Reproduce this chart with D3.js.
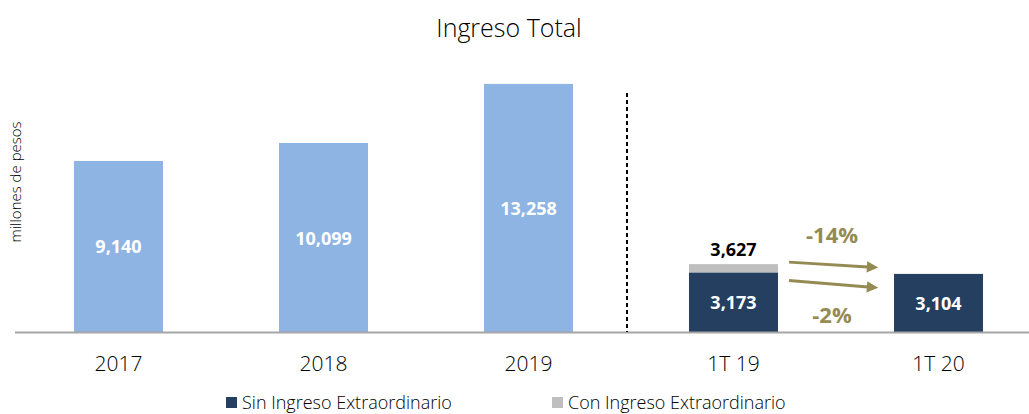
<!DOCTYPE html>
<html>
<head>
<meta charset="utf-8">
<script src="https://cdn.jsdelivr.net/npm/d3@7"></script>
<style>
  body { margin: 0; background: #fff; }
  svg text { font-family: "Open Sans", "DejaVu Sans", sans-serif; }
</style>
</head>
<body>
<div id="chart"></div>
<script>
// data
var categories = ["2017", "2018", "2019", "1T 19", "1T 20"];
var annualValues = [9140, 10099, 13258];           // light blue bars
var sinExtra = [null, null, null, 3173, 3104];     // navy bars
var conExtra = [null, null, null, 3627, null];     // total incl. extraordinary
var changes = ["-14%", "-2%"];
var legendLabels = ["Sin Ingreso Extraordinario", "Con Ingreso Extraordinario"];

var width = 1029, height = 414;
var baseY = 332;

var svg = d3.select("#chart").append("svg")
  .attr("width", width)
  .attr("height", height);

var x = d3.scaleBand().domain(categories).range([16, 1041])
  .paddingInner(0.566).paddingOuter(0.283);
var y = d3.scaleLinear().domain([0, 14000]).range([baseY, 70]);
var fmt = d3.format(",");

// title
svg.append("text")
  .attr("x", 509).attr("y", 37)
  .attr("text-anchor", "middle")
  .style("font-size", "25px")
  .style("font-weight", "300")
  .style("fill", "#000")
  .text("Ingreso Total");

// y label
svg.append("text")
  .attr("transform", "translate(21,182) rotate(-90)")
  .attr("text-anchor", "middle")
  .style("font-size", "15px")
  .style("font-weight", "300")
  .text("millones de pesos");

// annual bars
var annual = annualValues.map(function(v, i){ return {cat: categories[i], v: v}; });
svg.selectAll("rect.annual")
  .data(annual)
  .enter().append("rect")
    .attr("class", "annual")
    .attr("x", function(d){ return x(d.cat); })
    .attr("y", function(d){ return y(d.v); })
    .attr("width", x.bandwidth())
    .attr("height", function(d){ return baseY - y(d.v); })
    .attr("fill", "#8EB4E3");

// extraordinary (gray) part
var extra = categories.map(function(c, i){ return {cat: c, v: conExtra[i], s: sinExtra[i]}; })
  .filter(function(d){ return d.v != null; });
svg.selectAll("rect.extra")
  .data(extra)
  .enter().append("rect")
    .attr("class", "extra")
    .attr("x", function(d){ return x(d.cat); })
    .attr("y", function(d){ return y(d.v); })
    .attr("width", x.bandwidth())
    .attr("height", function(d){ return y(d.s) - y(d.v); })
    .attr("fill", "#BFBFBF");

// quarterly navy bars
var quarter = categories.map(function(c, i){ return {cat: c, v: sinExtra[i]}; })
  .filter(function(d){ return d.v != null; });
svg.selectAll("rect.quarter")
  .data(quarter)
  .enter().append("rect")
    .attr("class", "quarter")
    .attr("x", function(d){ return x(d.cat); })
    .attr("y", function(d){ return y(d.v); })
    .attr("width", x.bandwidth())
    .attr("height", function(d){ return baseY - y(d.v); })
    .attr("fill", "#243F60");

// value labels inside bars
svg.selectAll("text.val")
  .data(annual.concat(quarter))
  .enter().append("text")
    .attr("class", "val")
    .attr("x", function(d){ return x(d.cat) + x.bandwidth()/2; })
    .attr("y", function(d){ return (y(d.v) + baseY)/2 + 7; })
    .attr("text-anchor", "middle")
    .style("font-size", "18px")
    .style("font-weight", "bold")
    .style("fill", "#fff")
    .text(function(d){ return fmt(d.v); });

// total label above gray
svg.selectAll("text.tot")
  .data(extra)
  .enter().append("text")
    .attr("class", "tot")
    .attr("x", function(d){ return x(d.cat) + x.bandwidth()/2; })
    .attr("y", function(d){ return y(d.v) - 8; })
    .attr("text-anchor", "middle")
    .style("font-size", "18px")
    .style("font-weight", "bold")
    .style("fill", "#000")
    .text(function(d){ return fmt(d.v); });

// baseline
svg.append("line")
  .attr("x1", 15).attr("x2", width)
  .attr("y1", baseY + 0.5).attr("y2", baseY + 0.5)
  .attr("stroke", "#A6A6A6").attr("stroke-width", 2);

// dashed separator
var sepX = (x("2019") + x.bandwidth() + x("1T 19"))/2 - 4;
svg.append("line")
  .attr("x1", sepX).attr("x2", sepX)
  .attr("y1", 93).attr("y2", baseY)
  .attr("stroke", "#000").attr("stroke-width", 2)
  .attr("stroke-dasharray", "4,3");

// x tick labels
svg.selectAll("text.tick")
  .data(categories)
  .enter().append("text")
    .attr("class", "tick")
    .attr("x", function(d){ return x(d) + x.bandwidth()/2; })
    .attr("y", 371)
    .attr("text-anchor", "middle")
    .style("font-size", "21px")
    .style("font-weight", "300")
    .style("fill", "#000")
    .text(function(d){ return d; });

// arrows
var olive = "#948A54";
svg.append("defs").append("marker")
  .attr("id", "head")
  .attr("viewBox", "0 0 10 10")
  .attr("refX", 1).attr("refY", 5)
  .attr("markerWidth", 5.5).attr("markerHeight", 3.8)
  .attr("markerUnits", "strokeWidth")
  .attr("orient", "auto")
  .append("path").attr("d", "M0,0 L10,5 L0,10 Z").attr("fill", olive);

var ax1 = x("1T 19") + x.bandwidth() + 11;
var ax2 = x("1T 20") - 26;
var arrows = [
  {y1: y(conExtra[3]) - 2, y2: y(sinExtra[4]) - 7},
  {y1: y(sinExtra[3]) + 8, y2: y(sinExtra[4]) + 13}
];
svg.selectAll("line.arrow")
  .data(arrows)
  .enter().append("line")
    .attr("class", "arrow")
    .attr("x1", ax1).attr("x2", ax2)
    .attr("y1", function(d){ return d.y1; })
    .attr("y2", function(d){ return d.y2; })
    .attr("stroke", olive).attr("stroke-width", 3)
    .attr("marker-end", "url(#head)");

var midX = (x("1T 19") + x.bandwidth() + x("1T 20"))/2;
svg.selectAll("text.chg")
  .data(changes)
  .enter().append("text")
    .attr("class", "chg")
    .attr("x", midX - 4)
    .attr("y", function(d, i){ return i === 0 ? 243 : 323; })
    .attr("text-anchor", "middle")
    .style("font-size", "22px")
    .style("font-weight", "bold")
    .style("fill", olive)
    .text(function(d){ return d; });

// legend
var legColors = ["#243F60", "#BFBFBF"];
var legX = [226, 552];
var leg = svg.selectAll("g.leg")
  .data(legendLabels)
  .enter().append("g")
    .attr("class", "leg")
    .attr("transform", function(d, i){ return "translate(" + legX[i] + ",397)"; });
leg.append("rect")
  .attr("width", 11).attr("height", 11)
  .attr("fill", function(d, i){ return legColors[i]; });
leg.append("text")
  .attr("x", 16).attr("y", 12)
  .style("font-size", "18px")
  .style("font-weight", "300")
  .text(function(d){ return d; });
</script>
</body>
</html>
